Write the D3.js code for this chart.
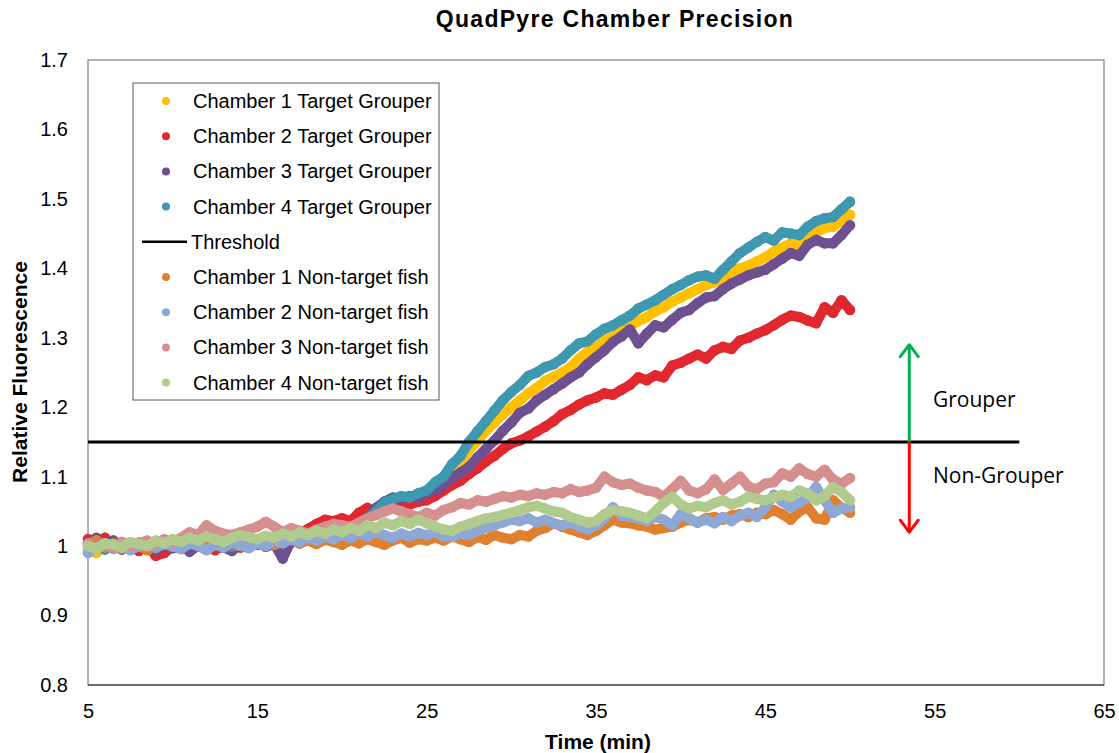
<!DOCTYPE html>
<html><head><meta charset="utf-8">
<script src="https://cdn.jsdelivr.net/npm/d3@7"></script>
<style>body{margin:0;background:#fff;font-family:Arial,"Liberation Sans",sans-serif}</style>
</head><body><svg id="c" width="1119" height="753"></svg>
<script>
const times = [5,5.5,6,6.5,7,7.5,8,8.5,9,9.5,10,
10.5,11,11.5,12,12.5,13,13.5,14,14.5,15,
15.5,16,16.5,17,17.5,18,18.5,19,19.5,20,
20.5,21,21.5,22,22.5,23,23.5,24,24.5,25,
25.5,26,26.5,27,27.5,28,28.5,29,29.5,30,
30.5,31,31.5,32,32.5,33,33.5,34,34.5,35,
35.5,36,36.5,37,37.5,38,38.5,39,39.5,40,
40.5,41,41.5,42,42.5,43,43.5,44,44.5,45,
45.5,46,46.5,47,47.5,48,48.5,49,49.5,50];

const ch1Target = [0.995,0.990,1.003,0.998,1.006,1.000,0.994,1.002,1.004,0.998,1.003,
1.000,0.996,1.005,1.001,0.997,1.004,1.002,0.998,1.006,1.003,
1.005,1.009,1.006,1.012,1.010,1.015,1.014,1.018,1.020,1.024,
1.030,1.034,1.042,1.052,1.060,1.064,1.068,1.066,1.072,1.076,
1.085,1.094,1.108,1.120,1.138,1.152,1.166,1.178,1.190,1.200,
1.210,1.220,1.228,1.238,1.244,1.250,1.258,1.270,1.280,1.286,
1.296,1.302,1.310,1.316,1.324,1.330,1.338,1.344,1.352,1.358,
1.364,1.370,1.376,1.380,1.386,1.394,1.400,1.404,1.410,1.416,
1.424,1.430,1.436,1.432,1.444,1.452,1.458,1.460,1.468,1.477];

const ch2Target = [1.010,1.004,1.012,0.998,1.006,1.000,0.993,1.003,0.986,0.990,1.000,
0.996,1.005,0.999,1.003,0.994,1.001,1.006,0.998,1.004,1.002,
1.006,1.004,1.010,1.012,1.018,1.025,1.032,1.038,1.036,1.040,
1.036,1.048,1.055,1.045,1.052,1.058,1.062,1.060,1.064,1.066,
1.072,1.080,1.088,1.094,1.104,1.112,1.122,1.130,1.140,1.148,
1.152,1.158,1.165,1.172,1.180,1.190,1.196,1.204,1.210,1.214,
1.220,1.218,1.225,1.232,1.243,1.239,1.246,1.243,1.260,1.264,
1.270,1.276,1.270,1.282,1.287,1.284,1.296,1.300,1.306,1.311,
1.318,1.326,1.332,1.330,1.325,1.321,1.344,1.336,1.354,1.340];

const ch3Target = [1.005,1.012,0.998,1.008,0.995,1.003,0.999,1.006,0.994,1.002,0.997,
1.004,0.992,1.001,0.996,1.005,0.998,0.993,1.004,1.000,1.006,
0.999,1.003,0.982,1.008,1.004,1.011,1.007,1.014,1.018,1.016,
1.024,1.030,1.040,1.055,1.064,1.070,1.068,1.072,1.070,1.076,
1.080,1.088,1.098,1.106,1.114,1.128,1.140,1.152,1.166,1.178,
1.192,1.198,1.210,1.218,1.226,1.234,1.243,1.250,1.262,1.272,
1.282,1.294,1.302,1.312,1.292,1.306,1.318,1.315,1.326,1.336,
1.340,1.350,1.358,1.360,1.370,1.378,1.384,1.390,1.394,1.398,
1.406,1.414,1.422,1.418,1.434,1.441,1.436,1.436,1.448,1.462];

const ch4Target = [1.000,1.008,0.995,1.004,1.002,0.996,1.005,1.000,0.997,1.006,1.001,
0.998,1.004,1.002,0.996,1.003,1.006,0.999,1.004,1.001,1.007,
1.003,1.008,1.005,1.010,1.012,1.009,1.015,1.018,1.016,1.022,
1.028,1.032,1.040,1.050,1.062,1.068,1.072,1.070,1.076,1.080,
1.092,1.100,1.118,1.130,1.150,1.165,1.180,1.195,1.210,1.222,
1.232,1.245,1.250,1.258,1.262,1.270,1.282,1.292,1.295,1.305,
1.313,1.318,1.325,1.332,1.342,1.348,1.354,1.362,1.370,1.376,
1.383,1.388,1.390,1.385,1.398,1.410,1.422,1.430,1.438,1.445,
1.440,1.452,1.450,1.448,1.460,1.468,1.472,1.474,1.485,1.496];

const ch1NonTarget = [1.002,1.008,0.998,1.004,0.996,1.003,1.000,0.994,1.002,1.006,0.999,
1.004,1.008,1.001,0.997,1.005,1.010,1.003,1.000,1.007,1.004,
1.008,1.002,1.006,1.010,1.004,1.008,1.003,1.009,1.006,1.002,
1.008,1.004,1.010,1.006,1.002,1.008,1.012,1.005,1.010,1.008,
1.012,1.008,1.014,1.010,1.006,1.013,1.009,1.016,1.012,1.010,
1.016,1.014,1.022,1.026,1.033,1.028,1.024,1.020,1.016,1.022,
1.030,1.038,1.034,1.033,1.030,1.028,1.024,1.026,1.028,1.034,
1.038,1.034,1.040,1.042,1.038,1.044,1.046,1.042,1.048,1.046,
1.052,1.046,1.038,1.050,1.056,1.040,1.038,1.066,1.055,1.048];

const ch2NonTarget = [0.990,0.998,1.004,0.996,1.002,0.994,1.000,1.006,0.998,1.003,1.000,
0.996,1.004,1.000,0.994,1.002,0.998,1.006,1.001,0.997,1.004,
1.000,1.008,1.004,1.010,1.006,1.012,1.008,1.014,1.010,1.016,
1.012,1.018,1.014,1.020,1.016,1.012,1.018,1.014,1.019,1.016,
1.020,1.014,1.013,1.018,1.016,1.022,1.026,1.030,1.034,1.038,
1.036,1.040,1.034,1.038,1.033,1.030,1.034,1.028,1.024,1.030,
1.040,1.056,1.044,1.042,1.040,1.036,1.042,1.038,1.030,1.046,
1.040,1.034,1.038,1.033,1.042,1.036,1.044,1.048,1.042,1.056,
1.074,1.064,1.056,1.062,1.070,1.085,1.066,1.048,1.054,1.056];

const ch3NonTarget = [1.004,0.996,1.002,0.998,1.006,1.000,1.004,1.008,1.003,1.010,1.006,
1.012,1.020,1.016,1.030,1.022,1.018,1.016,1.020,1.024,1.028,
1.035,1.028,1.020,1.026,1.022,1.018,1.024,1.028,1.032,1.030,
1.028,1.034,1.040,1.045,1.050,1.054,1.050,1.046,1.042,1.048,
1.044,1.052,1.056,1.062,1.060,1.066,1.064,1.068,1.072,1.070,
1.074,1.072,1.076,1.074,1.078,1.076,1.082,1.078,1.080,1.084,
1.100,1.092,1.088,1.090,1.084,1.080,1.078,1.071,1.082,1.094,
1.080,1.076,1.082,1.096,1.081,1.090,1.100,1.086,1.082,1.090,
1.092,1.105,1.100,1.112,1.104,1.100,1.110,1.096,1.090,1.098];

const ch4NonTarget = [1.000,0.996,1.004,1.002,0.998,1.006,1.003,1.000,1.008,1.004,1.010,
1.006,1.012,1.008,1.014,1.010,1.006,1.012,1.016,1.013,1.010,
1.015,1.012,1.018,1.014,1.020,1.016,1.022,1.018,1.024,1.020,
1.026,1.022,1.030,1.026,1.034,1.030,1.036,1.032,1.038,1.033,
1.028,1.024,1.022,1.028,1.032,1.036,1.040,1.042,1.045,1.048,
1.052,1.056,1.058,1.054,1.050,1.048,1.042,1.038,1.034,1.036,
1.046,1.052,1.050,1.048,1.044,1.040,1.050,1.062,1.071,1.060,
1.054,1.058,1.056,1.062,1.066,1.060,1.064,1.071,1.068,1.066,
1.070,1.074,1.071,1.080,1.076,1.066,1.072,1.085,1.078,1.066];

const thresholdValue = 1.15;
const thresholdRange = [5, 60];
const xTicks = [5,15,25,35,45,55,65];
const yTicks = [0.8,0.9,1.0,1.1,1.2,1.3,1.4,1.5,1.6,1.7];
const seriesNames = ["Chamber 1 Target Grouper","Chamber 2 Target Grouper","Chamber 3 Target Grouper","Chamber 4 Target Grouper","Threshold","Chamber 1 Non-target fish","Chamber 2 Non-target fish","Chamber 3 Non-target fish","Chamber 4 Non-target fish"];
const seriesColors = ["#FFC000","#E1272F","#6E5091","#3D98B0","#000000","#E0802F","#8EA8D6","#D48F8E","#B1CA8E"];
const seriesValues = [ch1Target,ch2Target,ch3Target,ch4Target,null,ch1NonTarget,ch2NonTarget,ch3NonTarget,ch4NonTarget];
const arrowX = 53.5, arrowTop = 1.29, arrowBottom = 1.02;

const svg = d3.select("#c");
const L = 88, R = 1104, T = 60, B = 685;
const x = d3.scaleLinear().domain([5,65]).range([L,R]);
const y = d3.scaleLinear().domain([0.8,1.7]).range([B,T]);

svg.append("text").attr("x",615).attr("y",27).attr("text-anchor","middle")
  .attr("font-size",23).attr("font-weight","bold").attr("letter-spacing",1.3)
  .text("QuadPyre Chamber Precision");

// frame
svg.append("rect").attr("x",L).attr("y",T).attr("width",R-L).attr("height",B-T)
  .attr("fill","none").attr("stroke","#8a8a8a").attr("stroke-width",1.3);
svg.append("line").attr("x1",L).attr("x2",R).attr("y1",B).attr("y2",B).attr("stroke","#555").attr("stroke-width",1.5);

const fmt = v => String(+v.toFixed(1));
const yAxis = svg.append("g").attr("transform",`translate(${L},0)`)
  .call(d3.axisLeft(y).tickValues(yTicks).tickFormat(fmt).tickSize(0).tickPadding(20));
const xAxis = svg.append("g").attr("transform",`translate(0,${B})`)
  .call(d3.axisBottom(x).tickValues(xTicks).tickFormat(d3.format("d")).tickSize(0).tickPadding(19));
[yAxis,xAxis].forEach(a=>{a.select(".domain").remove();a.selectAll("text").attr("font-size",20).attr("fill","#000").attr("font-family","Arial,'Liberation Sans',sans-serif");});

svg.append("text").attr("x",598).attr("y",749).attr("text-anchor","middle")
  .attr("font-size",21).attr("font-weight","bold").text("Time (min)");
svg.append("text").attr("transform","translate(27,372) rotate(-90)").attr("text-anchor","middle")
  .attr("font-size",21).attr("font-weight","bold").text("Relative Fluorescence");

const line = d3.line().x(d=>x(d[0])).y(d=>y(d[1]));
const plot = svg.append("g");
seriesValues.forEach((vals,i)=>{
  if(i===4){
    plot.append("line").attr("x1",x(thresholdRange[0])).attr("x2",x(thresholdRange[1]))
      .attr("y1",y(thresholdValue)).attr("y2",y(thresholdValue)).attr("stroke","#000").attr("stroke-width",3);
    return;
  }
  const pts = times.map((t,j)=>[t,vals[j]]);
  const g = plot.append("g");
  g.append("path").attr("d",line(pts)).attr("fill","none").attr("stroke",seriesColors[i])
    .attr("stroke-width",10).attr("stroke-linejoin","round").attr("stroke-linecap","round");
  g.selectAll("circle").data(pts).join("circle").attr("cx",d=>x(d[0])).attr("cy",d=>y(d[1]))
    .attr("r",5.3).attr("fill",seriesColors[i]);
});

// arrows
function arrow(y1,y2,col){
  plot.append("line").attr("x1",x(arrowX)).attr("x2",x(arrowX)).attr("y1",y(y1)).attr("y2",y(y2))
    .attr("stroke",col).attr("stroke-width",3);
  const tx=x(arrowX), ty=y(y2), dir = y2>y1 ? 1 : -1;
  plot.append("path").attr("d",`M${tx-9},${ty+dir*12}L${tx},${ty}L${tx+9},${ty+dir*12}`)
    .attr("fill","none").attr("stroke",col).attr("stroke-width",3).attr("stroke-linecap","round").attr("stroke-linejoin","round");
}
arrow(thresholdValue,arrowTop,"#00B050");
arrow(thresholdValue,arrowBottom,"#FF0000");
svg.append("text").attr("x",933).attr("y",407).attr("font-size",21).attr("font-family","'Open Sans','Noto Sans',sans-serif").text("Grouper");
svg.append("text").attr("x",933).attr("y",483).attr("font-size",21).attr("font-family","'Open Sans','Noto Sans',sans-serif").text("Non-Grouper");

// legend
const lg = svg.append("g");
lg.append("rect").attr("x",133).attr("y",83).attr("width",306).attr("height",317)
  .attr("fill","#fff").attr("stroke","#555").attr("stroke-width",1);
seriesNames.forEach((n,i)=>{
  const cy = 101 + i*35.2;
  if(i===4){
    lg.append("line").attr("x1",142).attr("x2",187).attr("y1",cy).attr("y2",cy).attr("stroke","#000").attr("stroke-width",2.5);
    lg.append("text").attr("x",191).attr("y",cy+7).attr("font-size",20).text(n);
  } else {
    lg.append("circle").attr("cx",166).attr("cy",cy).attr("r",4).attr("fill",seriesColors[i]);
    lg.append("text").attr("x",193).attr("y",cy+7).attr("font-size",20).text(n);
  }
});
</script></body></html>
